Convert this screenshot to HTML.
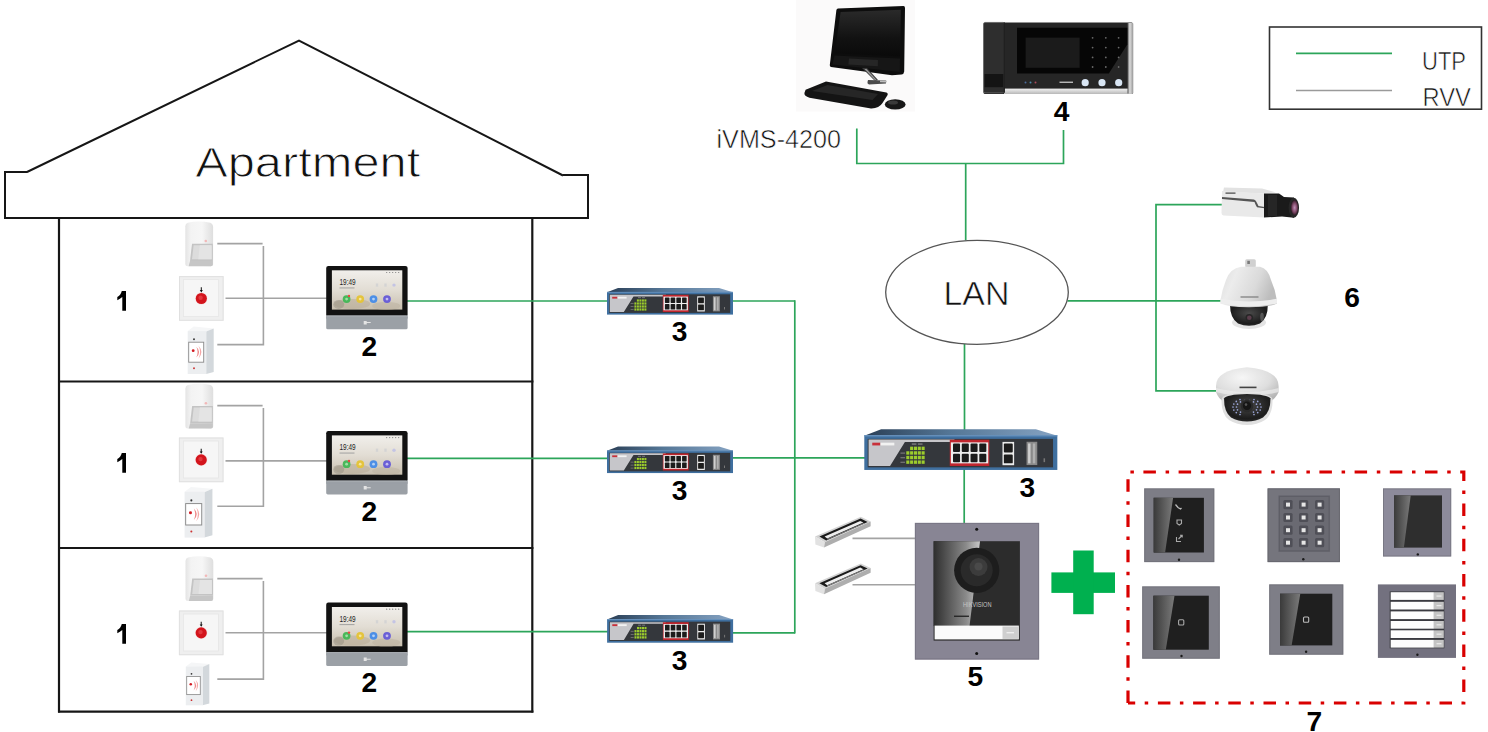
<!DOCTYPE html>
<html><head><meta charset="utf-8"><style>
html,body{margin:0;padding:0;background:#fff;width:1488px;height:732px;overflow:hidden}
svg{display:block}
text{font-family:"Liberation Sans",sans-serif}
</style></head><body>
<svg width="1488" height="732" viewBox="0 0 1488 732">
<rect width="1488" height="732" fill="#fff"/>
<rect x="796" y="0" width="119" height="111.5" fill="#fbfafa"/>
<polyline points="27,172 299,40.5 563,175.5" fill="none" stroke="#161616" stroke-width="2"/>
<polyline points="27.5,172 5,172 5,218 588,218 588,175 563,175" fill="none" stroke="#161616" stroke-width="2"/>
<line x1="59" y1="218" x2="59" y2="712.5" stroke="#161616" stroke-width="2.2"/>
<line x1="532.3" y1="218" x2="532.3" y2="712.5" stroke="#161616" stroke-width="2.2"/>
<line x1="58" y1="381.5" x2="533.4" y2="381.5" stroke="#161616" stroke-width="2.2"/>
<line x1="58" y1="548" x2="533.4" y2="548" stroke="#161616" stroke-width="2.2"/>
<line x1="58" y1="711.6" x2="533.4" y2="711.6" stroke="#161616" stroke-width="2.2"/>
<text x="195.2" y="176.8" font-size="41.8" font-weight="normal" fill="#111" textLength="225" lengthAdjust="spacingAndGlyphs" stroke="#fff" stroke-width="0.9" >Apartment</text>
<line x1="217.3" y1="243.6" x2="262.6" y2="243.6" stroke="#a3a3a3" stroke-width="1.6"/>
<polyline points="263.4,246.0 263.4,344.6 217.3,344.6" fill="none" stroke="#a3a3a3" stroke-width="1.6"/>
<line x1="225.5" y1="298.3" x2="327" y2="298.3" stroke="#a3a3a3" stroke-width="1.6"/>
<line x1="407" y1="301.0" x2="608" y2="301.0" stroke="#2ca55a" stroke-width="1.7"/>
<line x1="217.3" y1="405.6" x2="262.6" y2="405.6" stroke="#a3a3a3" stroke-width="1.6"/>
<polyline points="263.4,408.0 263.4,506.3 217.3,506.3" fill="none" stroke="#a3a3a3" stroke-width="1.6"/>
<line x1="225.5" y1="460.9" x2="327" y2="460.9" stroke="#a3a3a3" stroke-width="1.6"/>
<line x1="407" y1="458.3" x2="608" y2="458.3" stroke="#2ca55a" stroke-width="1.7"/>
<line x1="217.3" y1="578.6" x2="262.6" y2="578.6" stroke="#a3a3a3" stroke-width="1.6"/>
<polyline points="263.4,581.0 263.4,679.1 217.3,679.1" fill="none" stroke="#a3a3a3" stroke-width="1.6"/>
<line x1="225.5" y1="632.8" x2="327" y2="632.8" stroke="#a3a3a3" stroke-width="1.6"/>
<line x1="407" y1="631.6" x2="608" y2="631.6" stroke="#2ca55a" stroke-width="1.7"/>
<line x1="732" y1="301" x2="795" y2="301" stroke="#2ca55a" stroke-width="1.7"/>
<line x1="732" y1="457.8" x2="865" y2="457.8" stroke="#2ca55a" stroke-width="1.7"/>
<line x1="732" y1="632.8" x2="795" y2="632.8" stroke="#2ca55a" stroke-width="1.7"/>
<line x1="794.8" y1="300.2" x2="794.8" y2="633.6" stroke="#2ca55a" stroke-width="1.7"/>
<line x1="965.7" y1="163.5" x2="965.7" y2="240.5" stroke="#2ca55a" stroke-width="1.7"/>
<line x1="964.5" y1="344" x2="964.5" y2="430" stroke="#2ca55a" stroke-width="1.7"/>
<line x1="964.2" y1="469" x2="964.2" y2="523" stroke="#2ca55a" stroke-width="1.7"/>
<polyline points="856.8,128.6 856.8,163.5 1063.5,163.5 1063.5,130" fill="none" stroke="#2ca55a" stroke-width="1.7"/>
<line x1="1067.5" y1="300.8" x2="1221" y2="300.8" stroke="#2ca55a" stroke-width="1.7"/>
<polyline points="1222,204.6 1156,204.6 1156,390.8 1216,390.8" fill="none" stroke="#2ca55a" stroke-width="1.7"/>
<line x1="852.5" y1="538.4" x2="915" y2="538.4" stroke="#a3a3a3" stroke-width="1.6"/>
<line x1="852.5" y1="584.8" x2="915" y2="584.8" stroke="#a3a3a3" stroke-width="1.6"/>
<ellipse cx="977" cy="292.3" rx="91.3" ry="52" fill="#fff" stroke="#555" stroke-width="1.3"/>
<text x="943.5" y="305.2" font-size="33" font-weight="normal" fill="#111" textLength="66" lengthAdjust="spacingAndGlyphs" stroke="#fff" stroke-width="0.6" >LAN</text>
<rect x="1269.5" y="27" width="212" height="82.2" fill="#fff" stroke="#333" stroke-width="1.6"/>
<line x1="1296" y1="53.3" x2="1392" y2="53.3" stroke="#2ca55a" stroke-width="1.7"/>
<line x1="1296" y1="90.5" x2="1392" y2="90.5" stroke="#9a9a9a" stroke-width="1.6"/>
<text x="1422" y="70" font-size="26" font-weight="normal" fill="#111" textLength="44" lengthAdjust="spacingAndGlyphs" stroke="#fff" stroke-width="0.6" >UTP</text>
<text x="1422.5" y="106" font-size="25.5" font-weight="normal" fill="#111" textLength="48.5" lengthAdjust="spacingAndGlyphs" stroke="#fff" stroke-width="0.6" >RVV</text>
<text x="716.5" y="148.2" font-size="26.5" font-weight="normal" fill="#111" textLength="124.5" lengthAdjust="spacingAndGlyphs" stroke="#fff" stroke-width="0.6" >iVMS-4200</text>
<path d="M121.8,291.1 H126.0 V310.8 H122.3 V297.0 Q120.0,299.1 117.3,300.20000000000005 V297.0 Q120.60000000000001,295.5 121.8,291.1Z" fill="#000"/>
<path d="M121.8,453.1 H126.0 V472.8 H122.3 V459.0 Q120.0,461.1 117.3,462.20000000000005 V459.0 Q120.60000000000001,457.5 121.8,453.1Z" fill="#000"/>
<path d="M121.8,624.0999999999999 H126.0 V643.8 H122.3 V629.9999999999999 Q120.0,632.0999999999999 117.3,633.1999999999999 V629.9999999999999 Q120.60000000000001,628.4999999999999 121.8,624.0999999999999Z" fill="#000"/>
<text x="361.5" y="356" font-size="28.2" font-weight="bold" fill="#000" >2</text>
<text x="361.5" y="521.1" font-size="28.2" font-weight="bold" fill="#000" >2</text>
<text x="361.5" y="691.7" font-size="28.2" font-weight="bold" fill="#000" >2</text>
<text x="671.8" y="340.9" font-size="28.2" font-weight="bold" fill="#000" >3</text>
<text x="671.8" y="499.8" font-size="28.2" font-weight="bold" fill="#000" >3</text>
<text x="671.8" y="669.5" font-size="28.2" font-weight="bold" fill="#000" >3</text>
<text x="1019.5" y="497" font-size="28.2" font-weight="bold" fill="#000" >3</text>
<text x="1053.8" y="120.7" font-size="28.2" font-weight="bold" fill="#000" >4</text>
<text x="967.5" y="686" font-size="28.2" font-weight="bold" fill="#000" >5</text>
<text x="1344.3" y="306.6" font-size="28.2" font-weight="bold" fill="#000" >6</text>
<text x="1306.5" y="731.3" font-size="28.2" font-weight="bold" fill="#000" >7</text>
<path d="M1128,703 V472 H1463.8 V703 H1128" fill="none" stroke="#d90000" stroke-width="3.2" stroke-dasharray="12.5 9.7 3.5 9.5"/>
<rect x="1051.4" y="572.4" width="63.6" height="20.5" fill="#00b04f"/>
<rect x="1073.2" y="550.5" width="20.5" height="63.7" fill="#00b04f"/>

<defs>
<linearGradient id="gScreen" x1="0" y1="0" x2="0" y2="1">
 <stop offset="0" stop-color="#f1efeb"/><stop offset="0.5" stop-color="#e2ddd4"/><stop offset="1" stop-color="#c8bfae"/>
</linearGradient>
<linearGradient id="gSwTop" x1="0" y1="0" x2="1" y2="0">
 <stop offset="0" stop-color="#2a3e55"/><stop offset="0.45" stop-color="#557797"/><stop offset="1" stop-color="#86a3c2"/>
</linearGradient>
<linearGradient id="gPir" x1="0" y1="0" x2="1" y2="0">
 <stop offset="0" stop-color="#e4e4e4"/><stop offset="0.2" stop-color="#f3f3f3"/><stop offset="0.6" stop-color="#f6f6f6"/><stop offset="1" stop-color="#dedede"/>
</linearGradient>
<linearGradient id="gRefl" x1="0" y1="0" x2="1" y2="0">
 <stop offset="0" stop-color="#3a3a3a"/><stop offset="1" stop-color="#7a7a7a"/>
</linearGradient>
<linearGradient id="gRefl2" x1="0" y1="0" x2="1" y2="0">
 <stop offset="0" stop-color="#2e2e2e"/><stop offset="0.7" stop-color="#8a8a8a"/><stop offset="1" stop-color="#c8c8c8"/>
</linearGradient>
<linearGradient id="gPcScreen" x1="0" y1="0" x2="0" y2="1">
 <stop offset="0" stop-color="#2a2a2a"/><stop offset="0.6" stop-color="#121212"/><stop offset="1" stop-color="#0a0a0a"/>
</linearGradient>
<linearGradient id="gSilverV" x1="0" y1="0" x2="0" y2="1">
 <stop offset="0" stop-color="#f0f0f0"/><stop offset="1" stop-color="#b8b8b8"/>
</linearGradient>
<linearGradient id="gSilverH" x1="0" y1="0" x2="1" y2="0">
 <stop offset="0" stop-color="#555"/><stop offset="0.4" stop-color="#ddd"/><stop offset="1" stop-color="#999"/>
</linearGradient>
<linearGradient id="gPtz" x1="0" y1="0" x2="1" y2="0.3">
 <stop offset="0" stop-color="#dcdcdc"/><stop offset="0.3" stop-color="#ececec"/><stop offset="0.7" stop-color="#dadada"/><stop offset="1" stop-color="#bdbdbd"/>
</linearGradient>
<radialGradient id="gDomeW" cx="0.42" cy="0.3" r="0.75">
 <stop offset="0" stop-color="#f6f6f6"/><stop offset="0.6" stop-color="#dedede"/><stop offset="1" stop-color="#b4b4b4"/>
</radialGradient>
<radialGradient id="gDomeB" cx="0.5" cy="0.4" r="0.62">
 <stop offset="0" stop-color="#4a4a4a"/><stop offset="0.8" stop-color="#1c1c1c"/><stop offset="1" stop-color="#2a2a2a"/>
</radialGradient>
<radialGradient id="gLens" cx="0.5" cy="0.5" r="0.5">
 <stop offset="0" stop-color="#c090b8"/><stop offset="0.6" stop-color="#804868"/><stop offset="1" stop-color="#2a1a22"/>
</radialGradient>
</defs>

<g transform="translate(184.8,221.3)">
<path d="M3,1.5 Q14,-1 25.5,1.5 Q28.3,2.5 28.3,6 V43 Q28.3,45 26,45 H3 Q0.5,45 0.5,42.5 V5 Q0.5,2.3 3,1.5Z" fill="url(#gPir)"/>
<path d="M7.2,22.4 H28 V39.6 H5.2 Z" fill="#c4c4c4"/>
<path d="M8.8,23.9 H26.8 V37.9 H7.2 Z" fill="#dcdcdc"/>
<path d="M15,23.9 H26.8 V37.9 H13.5 Z" fill="#e4e4e4"/>
<path d="M5.2,39.6 H28 V43 Q28,45 26,45 H3.8 Z" fill="#c6c6c6"/>
<circle cx="21" cy="19.7" r="1.3" fill="#f2b8b8"/>
</g>
<g transform="translate(179,276.1)">
<rect x="0" y="0" width="44.6" height="44.7" fill="#efefef"/>
<rect x="0.5" y="0.5" width="43.6" height="43.7" fill="none" stroke="#e0e0e0" stroke-width="1"/>
<rect x="4.5" y="3.5" width="35" height="37" fill="#f6f6f6" stroke="#e6e6e6" stroke-width="0.8"/>
<circle cx="22.3" cy="22.4" r="6.2" fill="#f7e2e2"/>
<circle cx="22.3" cy="22.4" r="5.6" fill="#d3141c"/>
<circle cx="21.6" cy="21.6" r="2.2" fill="#e2383e"/>
<path d="M21.8,11.2 H22.8 V14 H23.8 L22.3,16.3 L20.8,14 H21.8Z" fill="#111"/>
</g>
<g transform="translate(187.7,326.6) scale(1.0)">
<path d="M0,4.5 L6,0 L26,1.8 L18.5,5 Z" fill="#f5f6f7"/>
<path d="M18.5,5 L26,1.8 L26,45.3 L18.5,47.4 Z" fill="#d3d8dc"/>
<rect x="0" y="4.5" width="18.5" height="42.9" fill="#eceef0"/>
<rect x="1" y="15.6" width="15" height="20" fill="#fff" stroke="#8a8a8a" stroke-width="0.9"/>
<circle cx="5.5" cy="24.1" r="1.4" fill="#d21c24"/>
<path d="M8.6,20.2 Q14.2,25.3 8.6,31 Q11.2,25.3 8.6,20.2Z" fill="#ee8a8a"/>
<path d="M10.8,19.2 Q16.6,25.4 10.8,32.2 Q14,25.4 10.8,19.2Z" fill="#f3a6a6"/>
<circle cx="6.3" cy="12.6" r="0.95" fill="#333"/>
<circle cx="6.3" cy="41.7" r="0.95" fill="#c33"/>
</g>
<g transform="translate(326.2,265.9)">
<rect x="0" y="0" width="81.4" height="51" rx="2.2" fill="#121212"/>
<rect x="0" y="49.8" width="81.4" height="13.6" rx="1.6" fill="#9ba0a6"/>
<rect x="0" y="49.8" width="81.4" height="3" fill="#9ba0a6"/>
<rect x="0" y="49.6" width="81.4" height="0.9" fill="#b0b4b8"/>
<rect x="5.7" y="4.4" width="70.4" height="39.3" fill="url(#gScreen)"/>
<ellipse cx="26" cy="38" rx="18" ry="5" fill="#b9ad98" opacity="0.55"/>
<ellipse cx="60" cy="40" rx="14" ry="4" fill="#bcb2a0" opacity="0.5"/>
<text x="13.3" y="19.2" font-size="8.2" fill="#1e1e1e" textLength="16.2" lengthAdjust="spacingAndGlyphs" font-family="Liberation Sans">19:49</text>
<rect x="13.3" y="21.6" width="15" height="0.9" fill="#9a9a9a"/>
<circle cx="20.4" cy="33.2" r="3.9" fill="#49b85a"/>
<circle cx="22.8" cy="30" r="1.2" fill="#e44"/>
<circle cx="34" cy="33.2" r="3.9" fill="#e4c43c"/>
<circle cx="47.3" cy="33.2" r="3.9" fill="#4d8fe6"/>
<circle cx="60.8" cy="33.2" r="3.9" fill="#6a5fd6"/>
<circle cx="20.4" cy="33.2" r="1.4" fill="#9fe0a6"/>
<circle cx="34" cy="33.2" r="1.4" fill="#f4e4a0"/>
<circle cx="47.3" cy="33.2" r="1.4" fill="#b4d2f6"/>
<circle cx="60.8" cy="33.2" r="1.4" fill="#c4bdf0"/>
<rect x="49.6" y="17.6" width="2.4" height="3.2" fill="#d4d4d4"/>
<rect x="58.1" y="17.6" width="2.4" height="3.2" fill="#d4d4d4"/>
<circle cx="67.8" cy="19.2" r="1.7" fill="#c4c4e4"/>
<circle cx="60.5" cy="6.6" r="0.6" fill="#777"/><circle cx="63.5" cy="6.6" r="0.6" fill="#777"/><circle cx="66.5" cy="6.6" r="0.6" fill="#777"/><circle cx="69.5" cy="6.6" r="0.6" fill="#777"/><circle cx="72.5" cy="6.6" r="0.6" fill="#777"/>
<ellipse cx="12.5" cy="38.5" rx="5.5" ry="4.5" fill="#8a8478" opacity="0.4"/>
<path d="M37.5,55 h3 v3.5 h-3z M40.5,56.2 h4 v1 h-4z" fill="#e4e4e4"/>
</g>
<g transform="translate(184.9,383.6)">
<path d="M3,1.5 Q14,-1 25.5,1.5 Q28.3,2.5 28.3,6 V43 Q28.3,45 26,45 H3 Q0.5,45 0.5,42.5 V5 Q0.5,2.3 3,1.5Z" fill="url(#gPir)"/>
<path d="M7.2,22.4 H28 V39.6 H5.2 Z" fill="#c4c4c4"/>
<path d="M8.8,23.9 H26.8 V37.9 H7.2 Z" fill="#dcdcdc"/>
<path d="M15,23.9 H26.8 V37.9 H13.5 Z" fill="#e4e4e4"/>
<path d="M5.2,39.6 H28 V43 Q28,45 26,45 H3.8 Z" fill="#c6c6c6"/>
<circle cx="21" cy="19.7" r="1.3" fill="#f2b8b8"/>
</g>
<g transform="translate(178.9,437.5)">
<rect x="0" y="0" width="44.6" height="44.7" fill="#efefef"/>
<rect x="0.5" y="0.5" width="43.6" height="43.7" fill="none" stroke="#e0e0e0" stroke-width="1"/>
<rect x="4.5" y="3.5" width="35" height="37" fill="#f6f6f6" stroke="#e6e6e6" stroke-width="0.8"/>
<circle cx="22.3" cy="22.4" r="6.2" fill="#f7e2e2"/>
<circle cx="22.3" cy="22.4" r="5.6" fill="#d3141c"/>
<circle cx="21.6" cy="21.6" r="2.2" fill="#e2383e"/>
<path d="M21.8,11.2 H22.8 V14 H23.8 L22.3,16.3 L20.8,14 H21.8Z" fill="#111"/>
</g>
<g transform="translate(184.6,486.9) scale(1.07)">
<path d="M0,4.5 L6,0 L26,1.8 L18.5,5 Z" fill="#f5f6f7"/>
<path d="M18.5,5 L26,1.8 L26,45.3 L18.5,47.4 Z" fill="#d3d8dc"/>
<rect x="0" y="4.5" width="18.5" height="42.9" fill="#eceef0"/>
<rect x="1" y="15.6" width="15" height="20" fill="#fff" stroke="#8a8a8a" stroke-width="0.9"/>
<circle cx="5.5" cy="24.1" r="1.4" fill="#d21c24"/>
<path d="M8.6,20.2 Q14.2,25.3 8.6,31 Q11.2,25.3 8.6,20.2Z" fill="#ee8a8a"/>
<path d="M10.8,19.2 Q16.6,25.4 10.8,32.2 Q14,25.4 10.8,19.2Z" fill="#f3a6a6"/>
<circle cx="6.3" cy="12.6" r="0.95" fill="#333"/>
<circle cx="6.3" cy="41.7" r="0.95" fill="#c33"/>
</g>
<g transform="translate(326.2,431.0)">
<rect x="0" y="0" width="81.4" height="51" rx="2.2" fill="#121212"/>
<rect x="0" y="49.8" width="81.4" height="13.6" rx="1.6" fill="#9ba0a6"/>
<rect x="0" y="49.8" width="81.4" height="3" fill="#9ba0a6"/>
<rect x="0" y="49.6" width="81.4" height="0.9" fill="#b0b4b8"/>
<rect x="5.7" y="4.4" width="70.4" height="39.3" fill="url(#gScreen)"/>
<ellipse cx="26" cy="38" rx="18" ry="5" fill="#b9ad98" opacity="0.55"/>
<ellipse cx="60" cy="40" rx="14" ry="4" fill="#bcb2a0" opacity="0.5"/>
<text x="13.3" y="19.2" font-size="8.2" fill="#1e1e1e" textLength="16.2" lengthAdjust="spacingAndGlyphs" font-family="Liberation Sans">19:49</text>
<rect x="13.3" y="21.6" width="15" height="0.9" fill="#9a9a9a"/>
<circle cx="20.4" cy="33.2" r="3.9" fill="#49b85a"/>
<circle cx="22.8" cy="30" r="1.2" fill="#e44"/>
<circle cx="34" cy="33.2" r="3.9" fill="#e4c43c"/>
<circle cx="47.3" cy="33.2" r="3.9" fill="#4d8fe6"/>
<circle cx="60.8" cy="33.2" r="3.9" fill="#6a5fd6"/>
<circle cx="20.4" cy="33.2" r="1.4" fill="#9fe0a6"/>
<circle cx="34" cy="33.2" r="1.4" fill="#f4e4a0"/>
<circle cx="47.3" cy="33.2" r="1.4" fill="#b4d2f6"/>
<circle cx="60.8" cy="33.2" r="1.4" fill="#c4bdf0"/>
<rect x="49.6" y="17.6" width="2.4" height="3.2" fill="#d4d4d4"/>
<rect x="58.1" y="17.6" width="2.4" height="3.2" fill="#d4d4d4"/>
<circle cx="67.8" cy="19.2" r="1.7" fill="#c4c4e4"/>
<circle cx="60.5" cy="6.6" r="0.6" fill="#777"/><circle cx="63.5" cy="6.6" r="0.6" fill="#777"/><circle cx="66.5" cy="6.6" r="0.6" fill="#777"/><circle cx="69.5" cy="6.6" r="0.6" fill="#777"/><circle cx="72.5" cy="6.6" r="0.6" fill="#777"/>
<ellipse cx="12.5" cy="38.5" rx="5.5" ry="4.5" fill="#8a8478" opacity="0.4"/>
<path d="M37.5,55 h3 v3.5 h-3z M40.5,56.2 h4 v1 h-4z" fill="#e4e4e4"/>
</g>
<g transform="translate(185.0,556.0)">
<path d="M3,1.5 Q14,-1 25.5,1.5 Q28.3,2.5 28.3,6 V43 Q28.3,45 26,45 H3 Q0.5,45 0.5,42.5 V5 Q0.5,2.3 3,1.5Z" fill="url(#gPir)"/>
<path d="M7.2,22.4 H28 V39.6 H5.2 Z" fill="#c4c4c4"/>
<path d="M8.8,23.9 H26.8 V37.9 H7.2 Z" fill="#dcdcdc"/>
<path d="M15,23.9 H26.8 V37.9 H13.5 Z" fill="#e4e4e4"/>
<path d="M5.2,39.6 H28 V43 Q28,45 26,45 H3.8 Z" fill="#c6c6c6"/>
<circle cx="21" cy="19.7" r="1.3" fill="#f2b8b8"/>
</g>
<g transform="translate(178.9,610.5)">
<rect x="0" y="0" width="44.6" height="44.7" fill="#efefef"/>
<rect x="0.5" y="0.5" width="43.6" height="43.7" fill="none" stroke="#e0e0e0" stroke-width="1"/>
<rect x="4.5" y="3.5" width="35" height="37" fill="#f6f6f6" stroke="#e6e6e6" stroke-width="0.8"/>
<circle cx="22.3" cy="22.4" r="6.2" fill="#f7e2e2"/>
<circle cx="22.3" cy="22.4" r="5.6" fill="#d3141c"/>
<circle cx="21.6" cy="21.6" r="2.2" fill="#e2383e"/>
<path d="M21.8,11.2 H22.8 V14 H23.8 L22.3,16.3 L20.8,14 H21.8Z" fill="#111"/>
</g>
<g transform="translate(185.8,662.4) scale(0.905)">
<path d="M0,4.5 L6,0 L26,1.8 L18.5,5 Z" fill="#f5f6f7"/>
<path d="M18.5,5 L26,1.8 L26,45.3 L18.5,47.4 Z" fill="#d3d8dc"/>
<rect x="0" y="4.5" width="18.5" height="42.9" fill="#eceef0"/>
<rect x="1" y="15.6" width="15" height="20" fill="#fff" stroke="#8a8a8a" stroke-width="0.9"/>
<circle cx="5.5" cy="24.1" r="1.4" fill="#d21c24"/>
<path d="M8.6,20.2 Q14.2,25.3 8.6,31 Q11.2,25.3 8.6,20.2Z" fill="#ee8a8a"/>
<path d="M10.8,19.2 Q16.6,25.4 10.8,32.2 Q14,25.4 10.8,19.2Z" fill="#f3a6a6"/>
<circle cx="6.3" cy="12.6" r="0.95" fill="#333"/>
<circle cx="6.3" cy="41.7" r="0.95" fill="#c33"/>
</g>
<g transform="translate(326.2,602.6)">
<rect x="0" y="0" width="81.4" height="51" rx="2.2" fill="#121212"/>
<rect x="0" y="49.8" width="81.4" height="13.6" rx="1.6" fill="#9ba0a6"/>
<rect x="0" y="49.8" width="81.4" height="3" fill="#9ba0a6"/>
<rect x="0" y="49.6" width="81.4" height="0.9" fill="#b0b4b8"/>
<rect x="5.7" y="4.4" width="70.4" height="39.3" fill="url(#gScreen)"/>
<ellipse cx="26" cy="38" rx="18" ry="5" fill="#b9ad98" opacity="0.55"/>
<ellipse cx="60" cy="40" rx="14" ry="4" fill="#bcb2a0" opacity="0.5"/>
<text x="13.3" y="19.2" font-size="8.2" fill="#1e1e1e" textLength="16.2" lengthAdjust="spacingAndGlyphs" font-family="Liberation Sans">19:49</text>
<rect x="13.3" y="21.6" width="15" height="0.9" fill="#9a9a9a"/>
<circle cx="20.4" cy="33.2" r="3.9" fill="#49b85a"/>
<circle cx="22.8" cy="30" r="1.2" fill="#e44"/>
<circle cx="34" cy="33.2" r="3.9" fill="#e4c43c"/>
<circle cx="47.3" cy="33.2" r="3.9" fill="#4d8fe6"/>
<circle cx="60.8" cy="33.2" r="3.9" fill="#6a5fd6"/>
<circle cx="20.4" cy="33.2" r="1.4" fill="#9fe0a6"/>
<circle cx="34" cy="33.2" r="1.4" fill="#f4e4a0"/>
<circle cx="47.3" cy="33.2" r="1.4" fill="#b4d2f6"/>
<circle cx="60.8" cy="33.2" r="1.4" fill="#c4bdf0"/>
<rect x="49.6" y="17.6" width="2.4" height="3.2" fill="#d4d4d4"/>
<rect x="58.1" y="17.6" width="2.4" height="3.2" fill="#d4d4d4"/>
<circle cx="67.8" cy="19.2" r="1.7" fill="#c4c4e4"/>
<circle cx="60.5" cy="6.6" r="0.6" fill="#777"/><circle cx="63.5" cy="6.6" r="0.6" fill="#777"/><circle cx="66.5" cy="6.6" r="0.6" fill="#777"/><circle cx="69.5" cy="6.6" r="0.6" fill="#777"/><circle cx="72.5" cy="6.6" r="0.6" fill="#777"/>
<ellipse cx="12.5" cy="38.5" rx="5.5" ry="4.5" fill="#8a8478" opacity="0.4"/>
<path d="M37.5,55 h3 v3.5 h-3z M40.5,56.2 h4 v1 h-4z" fill="#e4e4e4"/>
</g>
<g transform="translate(607,288.0) scale(1,1.0)">
<path d="M11,0 H112 L126,4.2 H0 Z" fill="url(#gSwTop)"/>
<rect x="0" y="3.9" width="126" height="22.7" fill="#3f6f9f"/>
<rect x="0" y="3.9" width="126" height="0.8" fill="#6c95bf"/>
<rect x="2.2" y="6.3" width="121" height="18.6" fill="#34373c"/>
<path d="M2.8,6.8 H59 L57.5,8.4 H26.5 L16.8,24 H2.8 Z" fill="#c6c6ca"/>
<rect x="5.2" y="8.8" width="5.2" height="1.8" fill="#c8303a"/>
<rect x="10.6" y="8.8" width="9" height="1.8" fill="#f2f2f2"/>
<rect x="27.40" y="14.40" width="2.0" height="2.2" fill="#9ccc2c"/><rect x="27.40" y="17.40" width="2.0" height="2.2" fill="#9ccc2c"/><rect x="27.40" y="20.40" width="2.0" height="2.2" fill="#9ccc2c"/><rect x="29.90" y="11.40" width="2.0" height="2.2" fill="#9ccc2c"/><rect x="29.90" y="14.40" width="2.0" height="2.2" fill="#9ccc2c"/><rect x="29.90" y="17.40" width="2.0" height="2.2" fill="#9ccc2c"/><rect x="29.90" y="20.40" width="2.0" height="2.2" fill="#9ccc2c"/><rect x="32.40" y="11.40" width="2.0" height="2.2" fill="#9ccc2c"/><rect x="32.40" y="14.40" width="2.0" height="2.2" fill="#9ccc2c"/><rect x="32.40" y="17.40" width="2.0" height="2.2" fill="#9ccc2c"/><rect x="32.40" y="20.40" width="2.0" height="2.2" fill="#9ccc2c"/><rect x="34.90" y="11.40" width="2.0" height="2.2" fill="#9ccc2c"/><rect x="34.90" y="14.40" width="2.0" height="2.2" fill="#9ccc2c"/><rect x="34.90" y="17.40" width="2.0" height="2.2" fill="#9ccc2c"/><rect x="34.90" y="20.40" width="2.0" height="2.2" fill="#9ccc2c"/><rect x="37.40" y="11.40" width="2.0" height="2.2" fill="#9ccc2c"/><rect x="37.40" y="14.40" width="2.0" height="2.2" fill="#9ccc2c"/><rect x="37.40" y="17.40" width="2.0" height="2.2" fill="#9ccc2c"/><rect x="37.40" y="20.40" width="2.0" height="2.2" fill="#9ccc2c"/><rect x="23.6" y="15.20" width="3" height="0.8" fill="#777"/><rect x="23.6" y="18.20" width="3" height="0.8" fill="#777"/><rect x="23.6" y="21.20" width="3" height="0.8" fill="#777"/><rect x="31" y="9.3" width="3" height="0.8" fill="#888"/><rect x="35" y="9.3" width="3" height="0.8" fill="#888"/>
<rect x="55.8" y="6.9" width="25.8" height="17.1" fill="#c0262e"/>
<rect x="56.5" y="8.6" width="24.4" height="13.7" fill="#eeeeee"/>
<rect x="57.90" y="9.40" width="4.6" height="5.5" rx="0.6" fill="#1c1c1c"/><rect x="57.90" y="16.10" width="4.6" height="5.5" rx="0.6" fill="#1c1c1c"/><rect x="63.62" y="9.40" width="4.6" height="5.5" rx="0.6" fill="#1c1c1c"/><rect x="63.62" y="16.10" width="4.6" height="5.5" rx="0.6" fill="#1c1c1c"/><rect x="69.34" y="9.40" width="4.6" height="5.5" rx="0.6" fill="#1c1c1c"/><rect x="69.34" y="16.10" width="4.6" height="5.5" rx="0.6" fill="#1c1c1c"/><rect x="75.06" y="9.40" width="4.6" height="5.5" rx="0.6" fill="#1c1c1c"/><rect x="75.06" y="16.10" width="4.6" height="5.5" rx="0.6" fill="#1c1c1c"/>
<rect x="90.2" y="8.3" width="7.6" height="15.2" fill="#ececec"/>
<rect x="91.1" y="9.4" width="5.8" height="5.8" rx="0.6" fill="#1c1c1c"/>
<rect x="91.1" y="16.5" width="5.8" height="5.8" rx="0.6" fill="#1c1c1c"/>
<rect x="105.9" y="8.2" width="7" height="15.2" fill="#8a8a8a"/>
<rect x="106.9" y="9.3" width="1.6" height="13" fill="#cfcfcf"/>
<rect x="110.0" y="9.3" width="1.6" height="13" fill="#b0b0b0"/>
<rect x="117" y="19" width="1" height="2.5" fill="#777"/>
</g>
<g transform="translate(607,446.6) scale(1,0.995)">
<path d="M11,0 H112 L126,4.2 H0 Z" fill="url(#gSwTop)"/>
<rect x="0" y="3.9" width="126" height="22.7" fill="#3f6f9f"/>
<rect x="0" y="3.9" width="126" height="0.8" fill="#6c95bf"/>
<rect x="2.2" y="6.3" width="121" height="18.6" fill="#34373c"/>
<path d="M2.8,6.8 H59 L57.5,8.4 H26.5 L16.8,24 H2.8 Z" fill="#c6c6ca"/>
<rect x="5.2" y="8.8" width="5.2" height="1.8" fill="#c8303a"/>
<rect x="10.6" y="8.8" width="9" height="1.8" fill="#f2f2f2"/>
<rect x="27.40" y="14.40" width="2.0" height="2.2" fill="#9ccc2c"/><rect x="27.40" y="17.40" width="2.0" height="2.2" fill="#9ccc2c"/><rect x="27.40" y="20.40" width="2.0" height="2.2" fill="#9ccc2c"/><rect x="29.90" y="11.40" width="2.0" height="2.2" fill="#9ccc2c"/><rect x="29.90" y="14.40" width="2.0" height="2.2" fill="#9ccc2c"/><rect x="29.90" y="17.40" width="2.0" height="2.2" fill="#9ccc2c"/><rect x="29.90" y="20.40" width="2.0" height="2.2" fill="#9ccc2c"/><rect x="32.40" y="11.40" width="2.0" height="2.2" fill="#9ccc2c"/><rect x="32.40" y="14.40" width="2.0" height="2.2" fill="#9ccc2c"/><rect x="32.40" y="17.40" width="2.0" height="2.2" fill="#9ccc2c"/><rect x="32.40" y="20.40" width="2.0" height="2.2" fill="#9ccc2c"/><rect x="34.90" y="11.40" width="2.0" height="2.2" fill="#9ccc2c"/><rect x="34.90" y="14.40" width="2.0" height="2.2" fill="#9ccc2c"/><rect x="34.90" y="17.40" width="2.0" height="2.2" fill="#9ccc2c"/><rect x="34.90" y="20.40" width="2.0" height="2.2" fill="#9ccc2c"/><rect x="37.40" y="11.40" width="2.0" height="2.2" fill="#9ccc2c"/><rect x="37.40" y="14.40" width="2.0" height="2.2" fill="#9ccc2c"/><rect x="37.40" y="17.40" width="2.0" height="2.2" fill="#9ccc2c"/><rect x="37.40" y="20.40" width="2.0" height="2.2" fill="#9ccc2c"/><rect x="23.6" y="15.20" width="3" height="0.8" fill="#777"/><rect x="23.6" y="18.20" width="3" height="0.8" fill="#777"/><rect x="23.6" y="21.20" width="3" height="0.8" fill="#777"/><rect x="31" y="9.3" width="3" height="0.8" fill="#888"/><rect x="35" y="9.3" width="3" height="0.8" fill="#888"/>
<rect x="55.8" y="6.9" width="25.8" height="17.1" fill="#c0262e"/>
<rect x="56.5" y="8.6" width="24.4" height="13.7" fill="#eeeeee"/>
<rect x="57.90" y="9.40" width="4.6" height="5.5" rx="0.6" fill="#1c1c1c"/><rect x="57.90" y="16.10" width="4.6" height="5.5" rx="0.6" fill="#1c1c1c"/><rect x="63.62" y="9.40" width="4.6" height="5.5" rx="0.6" fill="#1c1c1c"/><rect x="63.62" y="16.10" width="4.6" height="5.5" rx="0.6" fill="#1c1c1c"/><rect x="69.34" y="9.40" width="4.6" height="5.5" rx="0.6" fill="#1c1c1c"/><rect x="69.34" y="16.10" width="4.6" height="5.5" rx="0.6" fill="#1c1c1c"/><rect x="75.06" y="9.40" width="4.6" height="5.5" rx="0.6" fill="#1c1c1c"/><rect x="75.06" y="16.10" width="4.6" height="5.5" rx="0.6" fill="#1c1c1c"/>
<rect x="90.2" y="8.3" width="7.6" height="15.2" fill="#ececec"/>
<rect x="91.1" y="9.4" width="5.8" height="5.8" rx="0.6" fill="#1c1c1c"/>
<rect x="91.1" y="16.5" width="5.8" height="5.8" rx="0.6" fill="#1c1c1c"/>
<rect x="105.9" y="8.2" width="7" height="15.2" fill="#8a8a8a"/>
<rect x="106.9" y="9.3" width="1.6" height="13" fill="#cfcfcf"/>
<rect x="110.0" y="9.3" width="1.6" height="13" fill="#b0b0b0"/>
<rect x="117" y="19" width="1" height="2.5" fill="#777"/>
</g>
<g transform="translate(607.1,615.1) scale(1,1.038)">
<path d="M11,0 H112 L126,4.2 H0 Z" fill="url(#gSwTop)"/>
<rect x="0" y="3.9" width="126" height="22.7" fill="#3f6f9f"/>
<rect x="0" y="3.9" width="126" height="0.8" fill="#6c95bf"/>
<rect x="2.2" y="6.3" width="121" height="18.6" fill="#34373c"/>
<path d="M2.8,6.8 H59 L57.5,8.4 H26.5 L16.8,24 H2.8 Z" fill="#c6c6ca"/>
<rect x="5.2" y="8.8" width="5.2" height="1.8" fill="#c8303a"/>
<rect x="10.6" y="8.8" width="9" height="1.8" fill="#f2f2f2"/>
<rect x="27.40" y="14.40" width="2.0" height="2.2" fill="#9ccc2c"/><rect x="27.40" y="17.40" width="2.0" height="2.2" fill="#9ccc2c"/><rect x="27.40" y="20.40" width="2.0" height="2.2" fill="#9ccc2c"/><rect x="29.90" y="11.40" width="2.0" height="2.2" fill="#9ccc2c"/><rect x="29.90" y="14.40" width="2.0" height="2.2" fill="#9ccc2c"/><rect x="29.90" y="17.40" width="2.0" height="2.2" fill="#9ccc2c"/><rect x="29.90" y="20.40" width="2.0" height="2.2" fill="#9ccc2c"/><rect x="32.40" y="11.40" width="2.0" height="2.2" fill="#9ccc2c"/><rect x="32.40" y="14.40" width="2.0" height="2.2" fill="#9ccc2c"/><rect x="32.40" y="17.40" width="2.0" height="2.2" fill="#9ccc2c"/><rect x="32.40" y="20.40" width="2.0" height="2.2" fill="#9ccc2c"/><rect x="34.90" y="11.40" width="2.0" height="2.2" fill="#9ccc2c"/><rect x="34.90" y="14.40" width="2.0" height="2.2" fill="#9ccc2c"/><rect x="34.90" y="17.40" width="2.0" height="2.2" fill="#9ccc2c"/><rect x="34.90" y="20.40" width="2.0" height="2.2" fill="#9ccc2c"/><rect x="37.40" y="11.40" width="2.0" height="2.2" fill="#9ccc2c"/><rect x="37.40" y="14.40" width="2.0" height="2.2" fill="#9ccc2c"/><rect x="37.40" y="17.40" width="2.0" height="2.2" fill="#9ccc2c"/><rect x="37.40" y="20.40" width="2.0" height="2.2" fill="#9ccc2c"/><rect x="23.6" y="15.20" width="3" height="0.8" fill="#777"/><rect x="23.6" y="18.20" width="3" height="0.8" fill="#777"/><rect x="23.6" y="21.20" width="3" height="0.8" fill="#777"/><rect x="31" y="9.3" width="3" height="0.8" fill="#888"/><rect x="35" y="9.3" width="3" height="0.8" fill="#888"/>
<rect x="55.8" y="6.9" width="25.8" height="17.1" fill="#c0262e"/>
<rect x="56.5" y="8.6" width="24.4" height="13.7" fill="#eeeeee"/>
<rect x="57.90" y="9.40" width="4.6" height="5.5" rx="0.6" fill="#1c1c1c"/><rect x="57.90" y="16.10" width="4.6" height="5.5" rx="0.6" fill="#1c1c1c"/><rect x="63.62" y="9.40" width="4.6" height="5.5" rx="0.6" fill="#1c1c1c"/><rect x="63.62" y="16.10" width="4.6" height="5.5" rx="0.6" fill="#1c1c1c"/><rect x="69.34" y="9.40" width="4.6" height="5.5" rx="0.6" fill="#1c1c1c"/><rect x="69.34" y="16.10" width="4.6" height="5.5" rx="0.6" fill="#1c1c1c"/><rect x="75.06" y="9.40" width="4.6" height="5.5" rx="0.6" fill="#1c1c1c"/><rect x="75.06" y="16.10" width="4.6" height="5.5" rx="0.6" fill="#1c1c1c"/>
<rect x="90.2" y="8.3" width="7.6" height="15.2" fill="#ececec"/>
<rect x="91.1" y="9.4" width="5.8" height="5.8" rx="0.6" fill="#1c1c1c"/>
<rect x="91.1" y="16.5" width="5.8" height="5.8" rx="0.6" fill="#1c1c1c"/>
<rect x="105.9" y="8.2" width="7" height="15.2" fill="#8a8a8a"/>
<rect x="106.9" y="9.3" width="1.6" height="13" fill="#cfcfcf"/>
<rect x="110.0" y="9.3" width="1.6" height="13" fill="#b0b0b0"/>
<rect x="117" y="19" width="1" height="2.5" fill="#777"/>
</g>
<g transform="translate(864.3,429.2) scale(1.532)">
<path d="M11,0 H112 L126,4.2 H0 Z" fill="url(#gSwTop)"/>
<rect x="0" y="3.9" width="126" height="22.7" fill="#3f6f9f"/>
<rect x="0" y="3.9" width="126" height="0.8" fill="#6c95bf"/>
<rect x="2.2" y="6.3" width="121" height="18.6" fill="#34373c"/>
<path d="M2.8,6.8 H59 L57.5,8.4 H26.5 L16.8,24 H2.8 Z" fill="#c6c6ca"/>
<rect x="5.2" y="8.8" width="5.2" height="1.8" fill="#c8303a"/>
<rect x="10.6" y="8.8" width="9" height="1.8" fill="#f2f2f2"/>
<rect x="27.40" y="14.40" width="2.0" height="2.2" fill="#9ccc2c"/><rect x="27.40" y="17.40" width="2.0" height="2.2" fill="#9ccc2c"/><rect x="27.40" y="20.40" width="2.0" height="2.2" fill="#9ccc2c"/><rect x="29.90" y="11.40" width="2.0" height="2.2" fill="#9ccc2c"/><rect x="29.90" y="14.40" width="2.0" height="2.2" fill="#9ccc2c"/><rect x="29.90" y="17.40" width="2.0" height="2.2" fill="#9ccc2c"/><rect x="29.90" y="20.40" width="2.0" height="2.2" fill="#9ccc2c"/><rect x="32.40" y="11.40" width="2.0" height="2.2" fill="#9ccc2c"/><rect x="32.40" y="14.40" width="2.0" height="2.2" fill="#9ccc2c"/><rect x="32.40" y="17.40" width="2.0" height="2.2" fill="#9ccc2c"/><rect x="32.40" y="20.40" width="2.0" height="2.2" fill="#9ccc2c"/><rect x="34.90" y="11.40" width="2.0" height="2.2" fill="#9ccc2c"/><rect x="34.90" y="14.40" width="2.0" height="2.2" fill="#9ccc2c"/><rect x="34.90" y="17.40" width="2.0" height="2.2" fill="#9ccc2c"/><rect x="34.90" y="20.40" width="2.0" height="2.2" fill="#9ccc2c"/><rect x="37.40" y="11.40" width="2.0" height="2.2" fill="#9ccc2c"/><rect x="37.40" y="14.40" width="2.0" height="2.2" fill="#9ccc2c"/><rect x="37.40" y="17.40" width="2.0" height="2.2" fill="#9ccc2c"/><rect x="37.40" y="20.40" width="2.0" height="2.2" fill="#9ccc2c"/><rect x="23.6" y="15.20" width="3" height="0.8" fill="#777"/><rect x="23.6" y="18.20" width="3" height="0.8" fill="#777"/><rect x="23.6" y="21.20" width="3" height="0.8" fill="#777"/><rect x="31" y="9.3" width="3" height="0.8" fill="#888"/><rect x="35" y="9.3" width="3" height="0.8" fill="#888"/>
<rect x="55.8" y="6.9" width="25.8" height="17.1" fill="#c0262e"/>
<rect x="56.5" y="8.6" width="24.4" height="13.7" fill="#eeeeee"/>
<rect x="57.90" y="9.40" width="4.6" height="5.5" rx="0.6" fill="#1c1c1c"/><rect x="57.90" y="16.10" width="4.6" height="5.5" rx="0.6" fill="#1c1c1c"/><rect x="63.62" y="9.40" width="4.6" height="5.5" rx="0.6" fill="#1c1c1c"/><rect x="63.62" y="16.10" width="4.6" height="5.5" rx="0.6" fill="#1c1c1c"/><rect x="69.34" y="9.40" width="4.6" height="5.5" rx="0.6" fill="#1c1c1c"/><rect x="69.34" y="16.10" width="4.6" height="5.5" rx="0.6" fill="#1c1c1c"/><rect x="75.06" y="9.40" width="4.6" height="5.5" rx="0.6" fill="#1c1c1c"/><rect x="75.06" y="16.10" width="4.6" height="5.5" rx="0.6" fill="#1c1c1c"/>
<rect x="90.2" y="8.3" width="7.6" height="15.2" fill="#ececec"/>
<rect x="91.1" y="9.4" width="5.8" height="5.8" rx="0.6" fill="#1c1c1c"/>
<rect x="91.1" y="16.5" width="5.8" height="5.8" rx="0.6" fill="#1c1c1c"/>
<rect x="105.9" y="8.2" width="7" height="15.2" fill="#8a8a8a"/>
<rect x="106.9" y="9.3" width="1.6" height="13" fill="#cfcfcf"/>
<rect x="110.0" y="9.3" width="1.6" height="13" fill="#b0b0b0"/>
<rect x="117" y="19" width="1" height="2.5" fill="#777"/>
</g>
<g id="pc">
<path d="M838,8.4 L903.5,6 Q905,6.2 905,8 L904.2,71.5 Q904,74 901.5,74.5 L892,75.2 L831,67 Q829.6,66.6 829.8,65 L836.4,10 Q836.8,8.5 838,8.4Z" fill="#0d0d0d"/>
<path d="M840.6,12 L900.8,9.8 L900.2,56.5 L834.7,53.5 Z" fill="url(#gPcScreen)"/>
<path d="M834.4,55.5 L900,58.5 L899.8,72 L832.5,64.5 Z" fill="#161616"/>
<path d="M849,58.5 L878,60 L877.8,66.2 L848.3,64.4 Z" fill="#262626"/>
<path d="M862,68 L867,68 L878,80 L875,81 Z" fill="#3a3a3a"/>
<path d="M864.5,69 L866.5,69 L876.5,80 L875.2,80.4 Z" fill="#9a9a9a"/>
<path d="M868,80 L886,80.6 L886,83.4 L869,84.4 Q867,84 867.5,82 Z" fill="#4a4a4a"/>
<path d="M880,80.5 L887,80.8 L886.5,82.5 L880,82.2Z" fill="#bdbdbd"/>
<path d="M805.6,89.8 L826,81.6 L886.4,92.4 Q888.5,93.5 887.3,95.6 L882.5,103 Q879,108.6 871,108.4 L809.5,97.8 Q804,96 804.4,93 Z" fill="#141414"/>
<path d="M812,91 L827.5,85 L878,94 L872.5,100 Z" fill="#262626"/>
<ellipse cx="895.2" cy="104.4" rx="10.4" ry="5.2" fill="#171717"/>
<ellipse cx="893" cy="102.6" rx="5" ry="2" fill="#3a3a3a"/>
</g>
<g id="st">
<rect x="983.5" y="22.4" width="149.6" height="71.6" rx="1.5" fill="#262626"/>
<rect x="1004" y="88.6" width="128.5" height="5.4" fill="url(#gSilverV)"/>
<rect x="1127.5" y="23" width="5.6" height="70.5" fill="url(#gSilverH)"/>
<rect x="983.5" y="22.4" width="20.8" height="70.4" rx="1.5" fill="#2e2e2e" stroke="#777" stroke-width="0.6"/>
<rect x="984.6" y="74" width="18.8" height="13.2" fill="#141414"/>
<rect x="1003.5" y="22.4" width="1.4" height="70.4" fill="#1c1c1c"/>
<path d="M1017,27.8 H1127.3 V44.6 L1108.8,73.6 H1017 Z" fill="#060606"/>
<rect x="1025.6" y="37.6" width="54" height="30.2" fill="#1b1b1b"/>
<circle cx="1092.6" cy="37.8" r="0.9" fill="#6a6a6a"/><circle cx="1092.6" cy="47.6" r="0.9" fill="#6a6a6a"/><circle cx="1092.6" cy="57.4" r="0.9" fill="#6a6a6a"/><circle cx="1092.6" cy="67.0" r="0.9" fill="#6a6a6a"/><circle cx="1105.8" cy="37.8" r="0.9" fill="#6a6a6a"/><circle cx="1105.8" cy="47.6" r="0.9" fill="#6a6a6a"/><circle cx="1105.8" cy="57.4" r="0.9" fill="#6a6a6a"/><circle cx="1105.8" cy="67.0" r="0.9" fill="#6a6a6a"/><circle cx="1118.6" cy="37.8" r="0.9" fill="#6a6a6a"/><circle cx="1118.6" cy="47.6" r="0.9" fill="#6a6a6a"/><circle cx="1118.6" cy="57.4" r="0.9" fill="#6a6a6a"/><circle cx="1118.6" cy="67.0" r="0.9" fill="#6a6a6a"/>
<circle cx="1085.2" cy="82.7" r="3.6" fill="#d9e6f4"/>
<circle cx="1102.0" cy="82.7" r="3.6" fill="#d9e6f4"/>
<circle cx="1118.7" cy="82.7" r="3.6" fill="#d9e6f4"/>
<rect x="1059.5" y="81.6" width="13.5" height="1.3" fill="#c8c8c8"/>
<circle cx="1025.5" cy="82.4" r="1" fill="#4a6a9a"/>
<circle cx="1030.5" cy="82.4" r="1" fill="#4a8aaa"/>
<circle cx="1035.5" cy="82.4" r="1" fill="#aa4a5a"/>
</g>
<g id="boxcam">
<path d="M1224,187.5 L1262,188.5 L1276,192.5 L1264.5,193.5 L1223,192 Z" fill="#e2e2e2"/>
<path d="M1222,191 L1264.5,193.5 L1264.5,217.5 L1223.5,215.5 Q1221.5,215 1221.5,213 Z" fill="#e9e9e9"/>
<path d="M1222,197 L1254,199.5 Q1256,200 1257,203 L1258.5,206 L1264.5,207 L1264.5,208.3 L1257,207.2 Q1255.5,205 1254.5,202 L1222,199 Z" fill="#555"/>
<rect x="1225.5" y="192.4" width="10" height="1.5" fill="#666"/>
<path d="M1264,193.5 L1279,193.5 L1284,197 L1294,197.5 L1294,217.8 L1282,216.5 L1264,217.5 Z" fill="#1a1a1a"/>
<rect x="1268" y="195" width="9" height="21" fill="#262626"/>
<ellipse cx="1293.8" cy="207.7" rx="5.2" ry="10" fill="#262626"/>
<ellipse cx="1294.6" cy="207.7" rx="3.8" ry="7.6" fill="url(#gLens)"/>
</g>
<g id="ptz">
<rect x="1245.2" y="259.2" width="10.6" height="8.4" rx="1.5" fill="#d0d0d0"/>
<rect x="1247.3" y="260.8" width="2.6" height="3.2" fill="#7a7a7a"/>
<ellipse cx="1249" cy="322.5" rx="17" ry="6.5" fill="#e4e4e4"/>
<path d="M1230,305 Q1249,309 1267.8,305 Q1268,318 1260,323.5 Q1249,328 1238,323.5 Q1230,318 1230,305Z" fill="url(#gDomeB)"/>
<path d="M1241,266.8 L1260,266.8 Q1268,268.5 1271,280 Q1275.5,290 1276.8,300 L1277,303.5 Q1270,307.2 1249,307.2 Q1228,307.2 1220.5,303.5 L1220.5,300 Q1222,290 1226,280 Q1230,268.5 1241,266.8Z" fill="url(#gPtz)"/>
<path d="M1220.5,298.8 Q1249,304 1277,298.8 L1277,303.5 Q1249,309 1220.5,303.5Z" fill="#eeeeee"/>
<rect x="1240.5" y="296.3" width="18" height="1.4" fill="#888"/>
<circle cx="1249.3" cy="317.8" r="3.8" fill="#262626"/>
<circle cx="1249.3" cy="317.8" r="2.3" fill="#5a3e4c"/>
<ellipse cx="1262" cy="317" rx="1.8" ry="4.2" fill="#777" opacity="0.6"/>
</g>
<g id="dome">
<path d="M1216,386 Q1216,370 1247,367.2 Q1278.6,370 1278.6,386 L1278.6,392 Q1276,398 1270,402 L1224,402 Q1218,398 1216,392 Z" fill="url(#gDomeW)"/>
<path d="M1216,388 Q1247,396 1278.6,388 L1278.6,392 Q1247,400 1216,392Z" fill="#ececec" opacity="0.7"/>
<rect x="1239.5" y="386.6" width="17" height="1.6" fill="#444"/>
<path d="M1221.5,399 Q1224,393 1247,392.5 Q1270,393 1272.5,399 Q1273,414 1265,420 Q1257,425 1247,425 Q1237,425 1229,420 Q1221,414 1221.5,399Z" fill="#e0e0e0"/>
<path d="M1224,398.5 Q1226,394.5 1247,394 Q1268,394.5 1270.5,398.5 Q1270.5,412 1263,417.5 Q1256,421.5 1247,421.5 Q1238,421.5 1231,417.5 Q1224,412 1224,398.5Z" fill="url(#gDomeB)"/>
<circle cx="1257.5" cy="407.0" r="0.85" fill="#9aa4d6"/><circle cx="1256.5" cy="409.8" r="0.85" fill="#9aa4d6"/><circle cx="1253.5" cy="412.1" r="0.85" fill="#9aa4d6"/><circle cx="1240.5" cy="412.1" r="0.85" fill="#9aa4d6"/><circle cx="1237.5" cy="409.8" r="0.85" fill="#9aa4d6"/><circle cx="1236.5" cy="407.0" r="0.85" fill="#9aa4d6"/><circle cx="1237.5" cy="404.2" r="0.85" fill="#9aa4d6"/><circle cx="1240.5" cy="401.9" r="0.85" fill="#9aa4d6"/><circle cx="1244.7" cy="400.7" r="0.85" fill="#9aa4d6"/><circle cx="1249.3" cy="400.7" r="0.85" fill="#9aa4d6"/><circle cx="1253.5" cy="401.9" r="0.85" fill="#9aa4d6"/><circle cx="1256.5" cy="404.2" r="0.85" fill="#9aa4d6"/><circle cx="1261.0" cy="407.0" r="0.85" fill="#9aa4d6"/><circle cx="1260.2" cy="410.0" r="0.85" fill="#9aa4d6"/><circle cx="1257.7" cy="412.6" r="0.85" fill="#9aa4d6"/><circle cx="1254.0" cy="414.5" r="0.85" fill="#9aa4d6"/><circle cx="1240.0" cy="414.5" r="0.85" fill="#9aa4d6"/><circle cx="1236.3" cy="412.6" r="0.85" fill="#9aa4d6"/><circle cx="1233.8" cy="410.0" r="0.85" fill="#9aa4d6"/><circle cx="1233.0" cy="407.0" r="0.85" fill="#9aa4d6"/><circle cx="1233.8" cy="404.0" r="0.85" fill="#9aa4d6"/><circle cx="1236.3" cy="401.4" r="0.85" fill="#9aa4d6"/><circle cx="1240.0" cy="399.5" r="0.85" fill="#9aa4d6"/><circle cx="1254.0" cy="399.5" r="0.85" fill="#9aa4d6"/><circle cx="1257.7" cy="401.4" r="0.85" fill="#9aa4d6"/><circle cx="1260.2" cy="404.0" r="0.85" fill="#9aa4d6"/>
<circle cx="1247" cy="405.8" r="6.4" fill="#2b2b2b"/>
<circle cx="1247" cy="405.8" r="4.2" fill="#161616"/>
<circle cx="1246" cy="404.6" r="1.3" fill="#555"/>
</g>
<g transform="translate(0,0)">
<path d="M815,536.6 L860.8,516.8 L870.6,521.4 L824.6,542.2 Z" fill="#d2d2d2"/>
<path d="M824.6,542.2 L870.6,521.4 L870.6,526.2 L824,547.6 Z" fill="#aeaeae"/>
<path d="M815,536.6 L824.6,542.2 L824,547.6 L815.4,544.4 Z" fill="#e2e2e2"/>
<path d="M819.4,536.6 L860.6,518.6 L867.6,522.0 L826.2,540.4 Z" fill="#1a1a1a"/>
<path d="M824.6,536.6 L860.2,521.0 L863.4,522.6 L827.2,538.6 Z" fill="#eeeeee"/>
<path d="M826.8,539.0 L863.8,522.9 L864.6,523.4 L827.6,539.6 Z" fill="#8a8a8a"/>
</g>
<g transform="translate(0,46.6)">
<path d="M815,536.6 L860.8,516.8 L870.6,521.4 L824.6,542.2 Z" fill="#d2d2d2"/>
<path d="M824.6,542.2 L870.6,521.4 L870.6,526.2 L824,547.6 Z" fill="#aeaeae"/>
<path d="M815,536.6 L824.6,542.2 L824,547.6 L815.4,544.4 Z" fill="#e2e2e2"/>
<path d="M819.4,536.6 L860.6,518.6 L867.6,522.0 L826.2,540.4 Z" fill="#1a1a1a"/>
<path d="M824.6,536.6 L860.2,521.0 L863.4,522.6 L827.2,538.6 Z" fill="#eeeeee"/>
<path d="M826.8,539.0 L863.8,522.9 L864.6,523.4 L827.6,539.6 Z" fill="#8a8a8a"/>
</g>
<g id="door">
<rect x="914.8" y="522.8" width="124.4" height="136.8" fill="#888594"/>
<rect x="915.5" y="523.5" width="123" height="135.4" fill="none" stroke="#7a7786" stroke-width="1"/>
<rect x="933.6" y="541.2" width="86.3" height="99.4" fill="#2c2c2c"/>
<path d="M933.6,541.2 H980 L969.5,626 H933.6 Z" fill="url(#gRefl2)"/>
<circle cx="976.7" cy="570.3" r="22.6" fill="#1d1d1d"/>
<circle cx="976.7" cy="570.3" r="16" fill="#2a2a2a"/>
<circle cx="978.5" cy="567" r="9" fill="#3c3c3c"/>
<circle cx="978.5" cy="566.5" r="4" fill="#4a4a4a"/>
<text x="963" y="607.2" font-size="7" fill="#c4c4c4" textLength="28.5" lengthAdjust="spacingAndGlyphs" font-family="Liberation Sans">HIKVISION</text>
<rect x="954" y="615.6" width="15" height="1.3" fill="#222"/>
<rect x="934.6" y="625.6" width="84.2" height="13.8" fill="#fbfbfb"/>
<rect x="1002.5" y="626.5" width="15.8" height="12.4" fill="#cfcfcf"/>
<rect x="1006.5" y="632" width="7.5" height="1.4" fill="#eee"/>
<circle cx="976.7" cy="529.3" r="1.5" fill="#111"/>
<circle cx="976.7" cy="653.4" r="1.5" fill="#111"/>
</g>
<rect x="1144.2" y="488.4" width="70.1" height="73.7" fill="#7d7d86"/>
<rect x="1144.7" y="488.9" width="69.1" height="72.7" fill="none" stroke="#6c6c74" stroke-width="1" opacity="0.6"/>
<rect x="1153.7" y="497.8" width="50.2" height="54.7" fill="#1f1f1f"/>
<path d="M1153.7,497.8 H1173.1 L1165.1,552.5 H1153.7 Z" fill="url(#gRefl)"/>
<circle cx="1179" cy="559.7" r="1.2" fill="#1a1a1a"/>
<path d="M1175.5,504.5 L1178,507.5 L1180.5,509 L1181.5,508" fill="none" stroke="#bbb" stroke-width="1.3"/>
<path d="M1177,520 H1181.5 V523.5 L1179.3,525 L1177,523.5Z" fill="none" stroke="#aaa" stroke-width="1.1"/>
<path d="M1176.5,537 V541.5 H1181 M1178.5,539 L1182,535.5 M1180,535.3 H1182.2 V537.5" fill="none" stroke="#aaa" stroke-width="1.1"/>
<rect x="1267.6" y="488.4" width="72.3" height="73.7" fill="#75757d"/>
<rect x="1268.1" y="488.9" width="71.3" height="72.7" fill="none" stroke="#68686f" stroke-width="1"/>
<rect x="1278.4" y="495.4" width="51.7" height="56.5" fill="#6a6a72"/>
<rect x="1279.4" y="496.4" width="49.7" height="54.5" fill="none" stroke="#5e5e66" stroke-width="1.2"/>
<rect x="1283.4" y="500.0" width="9.2" height="9.2" rx="1.5" fill="#4f4f57"/>
<rect x="1286.0" y="502.6" width="4" height="4" fill="#e6e6e6"/>
<rect x="1283.4" y="512.9" width="9.2" height="9.2" rx="1.5" fill="#4f4f57"/>
<rect x="1286.0" y="515.5" width="4" height="4" fill="#e6e6e6"/>
<rect x="1283.4" y="525.6" width="9.2" height="9.2" rx="1.5" fill="#4f4f57"/>
<rect x="1286.0" y="528.2" width="4" height="4" fill="#e6e6e6"/>
<rect x="1283.4" y="538.1" width="9.2" height="9.2" rx="1.5" fill="#4f4f57"/>
<rect x="1286.0" y="540.7" width="4" height="4" fill="#e6e6e6"/>
<rect x="1299.0" y="500.0" width="9.2" height="9.2" rx="1.5" fill="#4f4f57"/>
<rect x="1301.6" y="502.6" width="4" height="4" fill="#e6e6e6"/>
<rect x="1299.0" y="512.9" width="9.2" height="9.2" rx="1.5" fill="#4f4f57"/>
<rect x="1301.6" y="515.5" width="4" height="4" fill="#e6e6e6"/>
<rect x="1299.0" y="525.6" width="9.2" height="9.2" rx="1.5" fill="#4f4f57"/>
<rect x="1301.6" y="528.2" width="4" height="4" fill="#e6e6e6"/>
<rect x="1299.0" y="538.1" width="9.2" height="9.2" rx="1.5" fill="#4f4f57"/>
<rect x="1301.6" y="540.7" width="4" height="4" fill="#e6e6e6"/>
<rect x="1315.0" y="500.0" width="9.2" height="9.2" rx="1.5" fill="#4f4f57"/>
<rect x="1317.6" y="502.6" width="4" height="4" fill="#e6e6e6"/>
<rect x="1315.0" y="512.9" width="9.2" height="9.2" rx="1.5" fill="#4f4f57"/>
<rect x="1317.6" y="515.5" width="4" height="4" fill="#e6e6e6"/>
<rect x="1315.0" y="525.6" width="9.2" height="9.2" rx="1.5" fill="#4f4f57"/>
<rect x="1317.6" y="528.2" width="4" height="4" fill="#e6e6e6"/>
<rect x="1315.0" y="538.1" width="9.2" height="9.2" rx="1.5" fill="#4f4f57"/>
<rect x="1317.6" y="540.7" width="4" height="4" fill="#e6e6e6"/>
<circle cx="1303.3" cy="559.3" r="1.2" fill="#1a1a1a"/>
<rect x="1383.0" y="488.4" width="68.2" height="68.1" fill="#8d8b9b"/>
<rect x="1383.5" y="488.9" width="67.2" height="67.1" fill="none" stroke="#6c6c74" stroke-width="1" opacity="0.6"/>
<rect x="1394.0" y="495.4" width="48.0" height="52.2" fill="#2e2e2e"/>
<path d="M1394.0,495.4 H1410.7 L1403.9,547.6 H1394.0 Z" fill="url(#gRefl)"/>
<circle cx="1417.8" cy="554.4" r="1.2" fill="#1a1a1a"/>
<rect x="1142.2" y="586.4" width="77.6" height="72.3" fill="#7f7f88"/>
<rect x="1142.7" y="586.9" width="76.6" height="71.3" fill="none" stroke="#6c6c74" stroke-width="1" opacity="0.6"/>
<rect x="1153.4" y="595.7" width="55.4" height="54.0" fill="#1f1f1f"/>
<path d="M1153.4,595.7 H1174.5 L1165.8,649.7 H1153.4 Z" fill="url(#gRefl)"/>
<circle cx="1181.5" cy="656.0" r="1.2" fill="#1a1a1a"/>
<rect x="1178.6" y="619.8" width="5.2" height="5.2" rx="1" fill="none" stroke="#aaa" stroke-width="1.1"/>
<rect x="1269.2" y="584.4" width="74.1" height="70.3" fill="#7e7e87"/>
<rect x="1269.7" y="584.9" width="73.1" height="69.3" fill="none" stroke="#6c6c74" stroke-width="1" opacity="0.6"/>
<rect x="1280.0" y="593.7" width="52.3" height="51.7" fill="#1f1f1f"/>
<path d="M1280.0,593.7 H1300.3 L1291.6,645.4 H1280.0 Z" fill="url(#gRefl)"/>
<circle cx="1306.1" cy="651.8" r="1.2" fill="#1a1a1a"/>
<rect x="1303.5" y="617" width="5.2" height="5.2" rx="1" fill="none" stroke="#bbb" stroke-width="1.1"/>
<rect x="1377.9" y="584.4" width="78.1" height="73.5" fill="#73717f"/>
<rect x="1389.7" y="591.4" width="54.6" height="56.9" fill="#3a3a40"/>
<rect x="1390.7" y="592.2" width="43.2" height="7.7" fill="#fdfdfd"/>
<rect x="1433.9" y="592.2" width="9.9" height="7.7" fill="#c4c4c4"/>
<rect x="1436.5" y="595.5" width="5" height="1.1" fill="#eee"/>
<rect x="1390.7" y="601.8" width="43.2" height="7.7" fill="#fdfdfd"/>
<rect x="1433.9" y="601.8" width="9.9" height="7.7" fill="#c4c4c4"/>
<rect x="1436.5" y="605.1" width="5" height="1.1" fill="#eee"/>
<rect x="1390.7" y="611.4" width="43.2" height="7.7" fill="#fdfdfd"/>
<rect x="1433.9" y="611.4" width="9.9" height="7.7" fill="#c4c4c4"/>
<rect x="1436.5" y="614.7" width="5" height="1.1" fill="#eee"/>
<rect x="1390.7" y="621.0" width="43.2" height="7.7" fill="#fdfdfd"/>
<rect x="1433.9" y="621.0" width="9.9" height="7.7" fill="#c4c4c4"/>
<rect x="1436.5" y="624.3" width="5" height="1.1" fill="#eee"/>
<rect x="1390.7" y="630.3" width="43.2" height="7.7" fill="#fdfdfd"/>
<rect x="1433.9" y="630.3" width="9.9" height="7.7" fill="#c4c4c4"/>
<rect x="1436.5" y="633.6" width="5" height="1.1" fill="#eee"/>
<rect x="1390.7" y="639.9" width="43.2" height="7.7" fill="#fdfdfd"/>
<rect x="1433.9" y="639.9" width="9.9" height="7.7" fill="#c4c4c4"/>
<rect x="1436.5" y="643.2" width="5" height="1.1" fill="#eee"/>
<circle cx="1417.4" cy="654.7" r="1.2" fill="#1a1a1a"/>
</svg>
</body></html>
